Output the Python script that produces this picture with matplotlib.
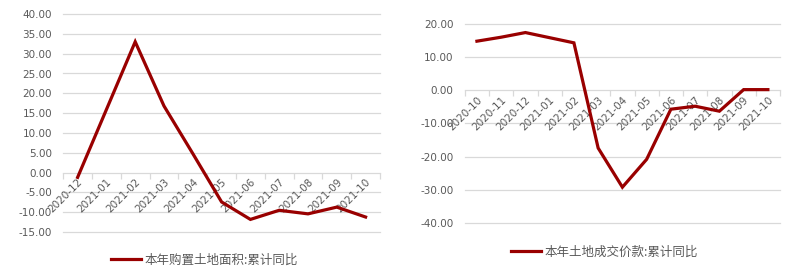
import numpy as np
import matplotlib
matplotlib.use("Agg")
import matplotlib.pyplot as plt

plt.rcParams['font.family'] = ['Noto Sans CJK SC', 'DejaVu Sans']

left_categories = ["2020-12", "2021-01", "2021-02", "2021-03", "2021-04", "2021-05",
                   "2021-06", "2021-07", "2021-08", "2021-09", "2021-10"]
left_values = [-1.2, np.nan, 33.0, 16.8, 4.8, -7.4, -11.8, -9.5, -10.4, -8.7, -11.2]
left_label = "本年购置土地面积:累计同比"
left_yticks = [-15, -10, -5, 0, 5, 10, 15, 20, 25, 30, 35, 40]

right_categories = ["2020-10", "2020-11", "2020-12", "2021-01", "2021-02", "2021-03",
                    "2021-04", "2021-05", "2021-06", "2021-07", "2021-08", "2021-09", "2021-10"]
right_values = [14.8, 16.0, 17.4, np.nan, 14.3, -17.4, -29.2, -20.8, -5.7, -4.8, -6.3, 0.2, 0.2]
right_label = "本年土地成交价款:累计同比"
right_yticks = [-40, -30, -20, -10, 0, 10, 20]

LINE = "#990000"
GRID = "#d9d9d9"
TXT = "#595959"

fig = plt.figure(figsize=(8, 2.75), dpi=100)
ax1 = fig.add_axes([0.079, 0.156, 0.396, 0.793])
ax2 = fig.add_axes([0.581, 0.189, 0.394, 0.724])


def draw(ax, cats, vals, label, yticks, legend_xy):
    x = np.arange(len(cats))
    v = np.array(vals, dtype=float)
    m = ~np.isnan(v)
    ln, = ax.plot(x[m], v[m], color=LINE, lw=2.3, solid_joinstyle='miter', label=label, zorder=3)
    ax.set_xlim(-0.5, len(cats) - 0.5)
    ax.set_ylim(yticks[0], yticks[-1])
    ax.set_yticks(yticks)
    ax.set_yticklabels([f"{t:.2f}" for t in yticks], fontsize=7.5, color=TXT,
                       family='DejaVu Sans')
    ax.tick_params(axis='y', length=0, pad=8)
    for t in yticks:
        if t != 0:
            ax.axhline(t, color=GRID, lw=0.9, zorder=1, clip_on=False)
    for s in ['top', 'right', 'left']:
        ax.spines[s].set_visible(False)
    ax.spines['bottom'].set_position(('data', 0))
    ax.spines['bottom'].set_color(GRID)
    ax.spines['bottom'].set_linewidth(0.9)
    ax.set_xticks(x)
    ax.set_xticklabels(cats, rotation=45, ha='right', va='top', rotation_mode='anchor',
                       fontsize=7.5, color=TXT, family='DejaVu Sans')
    ax.tick_params(axis='x', which='major', length=0, pad=3)
    ax.set_xticks(np.arange(len(cats) + 1) - 0.5, minor=True)
    ax.tick_params(axis='x', which='minor', length=4, color=GRID, width=0.9)
    leg = fig.legend(handles=[ln], loc='center', bbox_to_anchor=legend_xy, frameon=False,
                     fontsize=9, handlelength=2.4, handletextpad=0.3)
    for t in leg.get_texts():
        t.set_color(TXT)


draw(ax1, left_categories, left_values, left_label, left_yticks, (0.256, 1 - 260 / 275))
draw(ax2, right_categories, right_values, right_label, right_yticks, (0.756, 1 - 252 / 275))

fig.savefig("out.png", dpi=100)
